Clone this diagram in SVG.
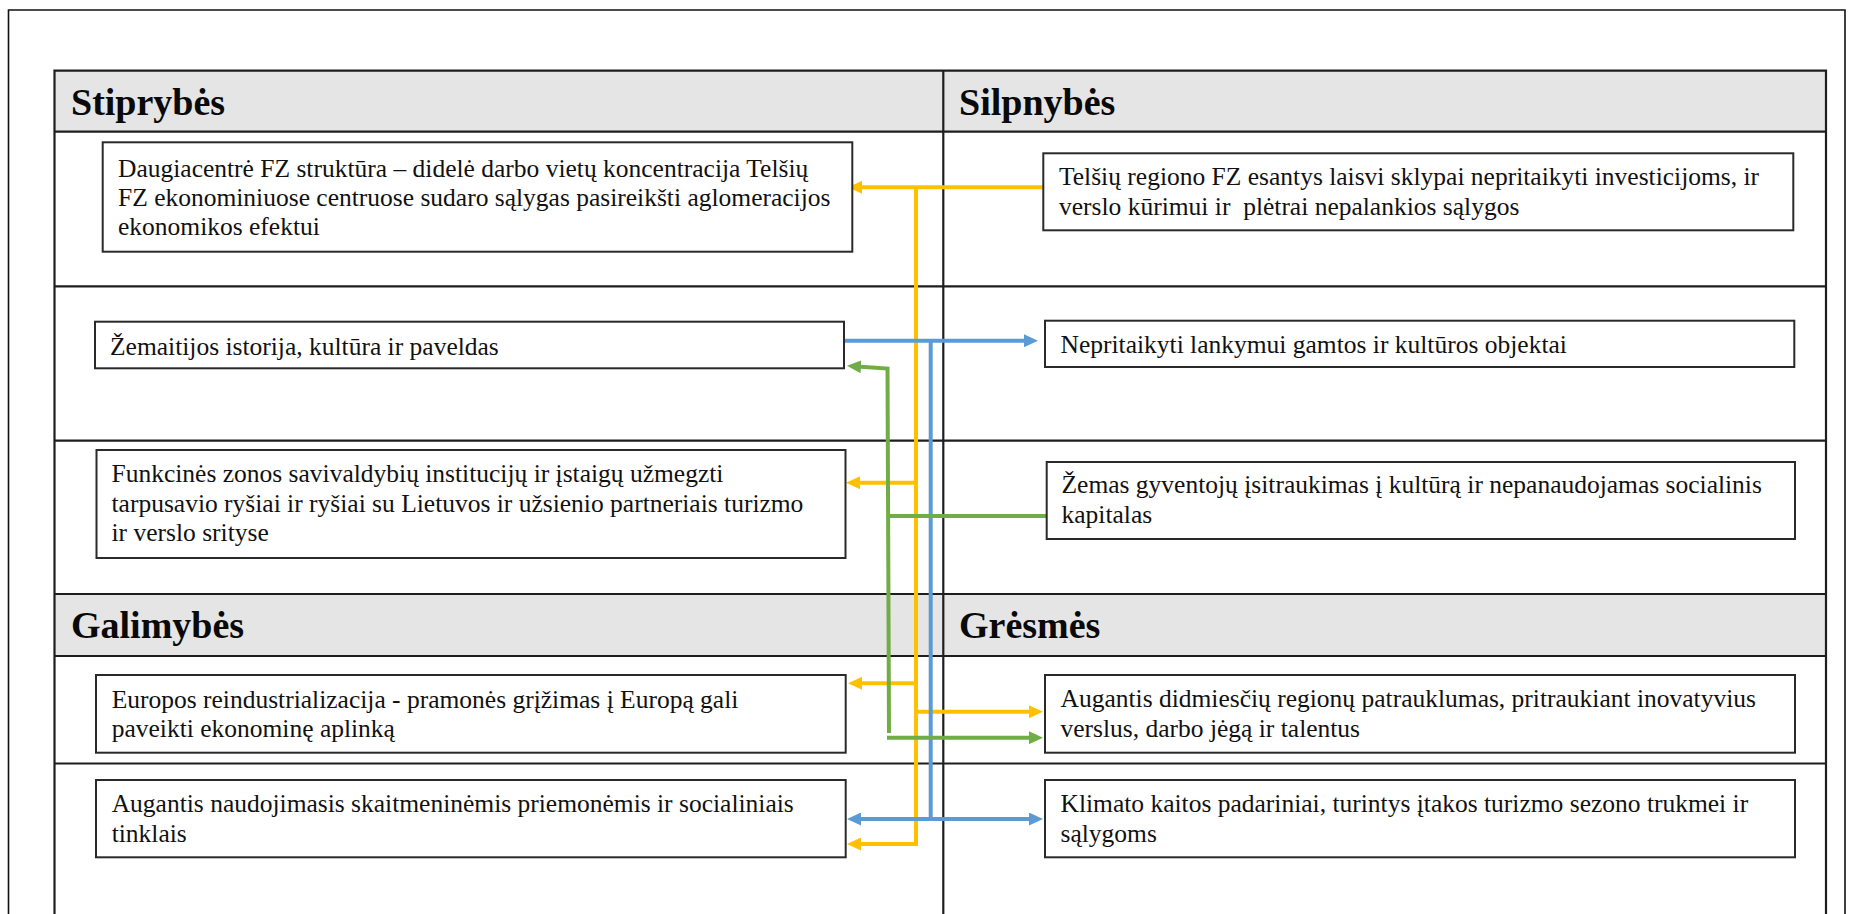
<svg xmlns="http://www.w3.org/2000/svg" width="1858" height="914" viewBox="0 0 1858 914">
<style>
.frame{fill:none;stroke:#111;stroke-width:1.6}
.grid{fill:none;stroke:#1e1e1e;stroke-width:2.2}
.hdr{fill:#e5e5e5;stroke:none}
.box{fill:#fff;stroke:#2a2a2a;stroke-width:2}
.t{font-family:"Liberation Serif","Times New Roman",serif;font-size:25.5px;fill:#111}
.h{font-family:"Liberation Serif","Times New Roman",serif;font-size:38px;font-weight:bold;fill:#0a0a0a}
.y{fill:none;stroke:#ffc000;stroke-width:4}
.b{fill:none;stroke:#5b9bd5;stroke-width:4}
.g{fill:none;stroke:#70ad47;stroke-width:4}
</style>
<defs>
<marker id="ay" markerUnits="userSpaceOnUse" markerWidth="14" markerHeight="13" refX="4" refY="6.5" orient="auto-start-reverse"><path d="M0,0 L14,6.5 L0,13 z" fill="#ffc000"/></marker>
<marker id="ab" markerUnits="userSpaceOnUse" markerWidth="14" markerHeight="13" refX="4" refY="6.5" orient="auto-start-reverse"><path d="M0,0 L14,6.5 L0,13 z" fill="#5b9bd5"/></marker>
<marker id="ag" markerUnits="userSpaceOnUse" markerWidth="14" markerHeight="13" refX="4" refY="6.5" orient="auto-start-reverse"><path d="M0,0 L14,6.5 L0,13 z" fill="#70ad47"/></marker>
</defs>
<rect width="1858" height="914" fill="#fff"/>
<g id="frame">
<path class="frame" d="M8.5,920 V10 H1845 V920"/>
</g>
<g id="table">
<rect class="hdr" x="54.5" y="70.7" width="1771.5" height="61"/>
<rect class="hdr" x="54.5" y="594" width="1771.5" height="62"/>
<path class="grid" d="M54.5,920 V70.7 H1826 V920 M943.3,70.7 V920 M54.5,131.7 H1826 M54.5,286.3 H1826 M54.5,440.7 H1826 M54.5,594 H1826 M54.5,656 H1826 M54.5,763.5 H1826"/>
<text class="h" x="71" y="115">Stiprybės</text>
<text class="h" x="959" y="115">Silpnybės</text>
<text class="h" x="71" y="638">Galimybės</text>
<text class="h" x="959" y="638">Grėsmės</text>
</g>
<g id="connectors">
<path class="y" d="M1043,187.3 H858" marker-end="url(#ay)"/>
<path class="y" d="M916,187.3 V844 H857" marker-end="url(#ay)"/>
<path class="y" d="M916,482.7 H856" marker-end="url(#ay)"/>
<path class="y" d="M916,683.3 H858" marker-end="url(#ay)"/>
<path class="y" d="M916,711.7 H1033" marker-end="url(#ay)"/>
<path class="b" d="M844,340.7 H1028" marker-end="url(#ab)"/>
<path class="b" d="M930.7,340.7 V819"/>
<path class="b" d="M857,819 H1033" marker-start="url(#ab)" marker-end="url(#ab)"/>
<path class="g" d="M1047,516 H888"/>
<path class="g" d="M889,733 L887.5,368.5 L857,366.5" marker-end="url(#ag)"/>
<path class="g" d="M887,737.7 H1033" marker-end="url(#ag)"/>
</g>
<g id="n1">
<rect class="box" x="102.7" y="142.3" width="749.6" height="109.4"/>
<text class="t" x="118" y="176.7">Daugiacentrė FZ struktūra – didelė darbo vietų koncentracija Telšių</text>
<text class="t" x="118" y="205.9">FZ ekonominiuose centruose sudaro sąlygas pasireikšti aglomeracijos</text>
<text class="t" x="118" y="235.1">ekonomikos efektui</text>
</g>
<g id="n2">
<rect class="box" x="1043.3" y="153.3" width="750" height="77"/>
<text class="t" x="1059" y="184.5">Telšių regiono FZ esantys laisvi sklypai nepritaikyti investicijoms, ir</text>
<text class="t" x="1059" y="214.5" style="white-space:pre">verslo kūrimui ir  plėtrai nepalankios sąlygos</text>
</g>
<g id="n3">
<rect class="box" x="95" y="321.7" width="749" height="46.6"/>
<text class="t" x="110" y="355">Žemaitijos istorija, kultūra ir paveldas</text>
</g>
<g id="n4">
<rect class="box" x="1045" y="320.7" width="749.3" height="46.3"/>
<text class="t" x="1060.5" y="353">Nepritaikyti lankymui gamtos ir kultūros objektai</text>
</g>
<g id="n5">
<rect class="box" x="96.5" y="450" width="749" height="108"/>
<text class="t" x="111.5" y="482">Funkcinės zonos savivaldybių institucijų ir įstaigų užmegzti</text>
<text class="t" x="111.5" y="511.5">tarpusavio ryšiai ir ryšiai su Lietuvos ir užsienio partneriais turizmo</text>
<text class="t" x="111.5" y="541">ir verslo srityse</text>
</g>
<g id="n6">
<rect class="box" x="1046.7" y="462" width="748.3" height="77"/>
<text class="t" x="1061.5" y="493">Žemas gyventojų įsitraukimas į kultūrą ir nepanaudojamas socialinis</text>
<text class="t" x="1061.5" y="523">kapitalas</text>
</g>
<g id="n7">
<rect class="box" x="96" y="675" width="749.7" height="77.7"/>
<text class="t" x="111.7" y="707.8">Europos reindustrializacija - pramonės grįžimas į Europą gali</text>
<text class="t" x="111.7" y="737">paveikti ekonominę aplinką</text>
</g>
<g id="n8">
<rect class="box" x="96" y="780" width="749.7" height="77.3"/>
<text class="t" x="111.7" y="812.3">Augantis naudojimasis skaitmeninėmis priemonėmis ir socialiniais</text>
<text class="t" x="111.7" y="841.7">tinklais</text>
</g>
<g id="n9">
<rect class="box" x="1045" y="675" width="750" height="77.7"/>
<text class="t" x="1060.5" y="707">Augantis didmiesčių regionų patrauklumas, pritraukiant inovatyvius</text>
<text class="t" x="1060.5" y="737">verslus, darbo jėgą ir talentus</text>
</g>
<g id="n10">
<rect class="box" x="1045" y="780" width="750" height="77.3"/>
<text class="t" x="1060.5" y="812">Klimato kaitos padariniai, turintys įtakos turizmo sezono trukmei ir</text>
<text class="t" x="1060.5" y="842">sąlygoms</text>
</g>
</svg>
